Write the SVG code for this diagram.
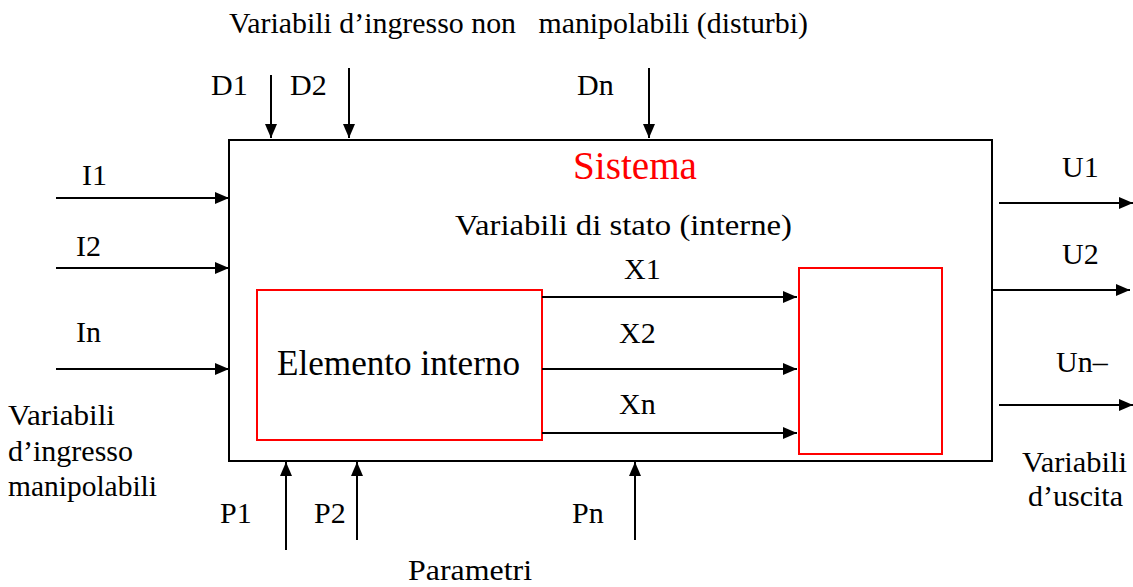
<svg xmlns="http://www.w3.org/2000/svg" width="1133" height="587" viewBox="0 0 1133 587">
<style>
.t{font-family:"Liberation Serif","Tinos","Times New Roman","Nimbus Roman","FreeSerif","DejaVu Serif",serif;font-size:30px;fill:#000}
.red{fill:#ff0000}
.big{font-size:35px}
.title{font-size:39px}
.ln{stroke:#000;stroke-width:2;fill:none}
.box{stroke:#000;stroke-width:2;fill:#fff}
.rbox{stroke:#ff0000;stroke-width:2;fill:#fff}
</style>
<defs>
<marker id="ah" markerWidth="14" markerHeight="12" refX="14" refY="6" orient="auto" markerUnits="userSpaceOnUse">
<path d="M0,0 L14,6 L0,12 Z" fill="#000"/>
</marker>
</defs>
<g>
<text class="t" x="229" y="33" xml:space="preserve" textLength="579" lengthAdjust="spacingAndGlyphs">Variabili d’ingresso non   manipolabili (disturbi)</text>
<g id="sistema">
<rect class="box" x="229" y="140" width="763" height="321"/>
<text class="t red title" x="573" y="179" textLength="124" lengthAdjust="spacingAndGlyphs">Sistema</text>
<text class="t" x="455" y="235" textLength="337" lengthAdjust="spacingAndGlyphs">Variabili di stato (interne)</text>
</g>
<g id="elemento">
<rect class="rbox" x="257" y="290" width="285" height="150"/>
<text class="t big" x="277" y="375" textLength="243" lengthAdjust="spacingAndGlyphs">Elemento interno</text>
</g>
<g id="uscita-interna">
<rect class="rbox" x="799" y="268" width="143" height="186"/>
</g>
<g id="connectors">
<line class="ln" x1="56" y1="198" x2="229" y2="198" marker-end="url(#ah)"/>
<line class="ln" x1="56" y1="268" x2="229" y2="268" marker-end="url(#ah)"/>
<line class="ln" x1="56" y1="369" x2="229" y2="369" marker-end="url(#ah)"/>
<line class="ln" x1="999" y1="203" x2="1133" y2="203" marker-end="url(#ah)"/>
<line class="ln" x1="992" y1="290" x2="1130" y2="290" marker-end="url(#ah)"/>
<line class="ln" x1="999" y1="405" x2="1133" y2="405" marker-end="url(#ah)"/>
<line class="ln" x1="271" y1="75" x2="271" y2="138" marker-end="url(#ah)"/>
<line class="ln" x1="349" y1="68" x2="349" y2="138" marker-end="url(#ah)"/>
<line class="ln" x1="649" y1="68" x2="649" y2="138" marker-end="url(#ah)"/>
<line class="ln" x1="286" y1="550" x2="286" y2="462" marker-end="url(#ah)"/>
<line class="ln" x1="357" y1="540" x2="357" y2="462" marker-end="url(#ah)"/>
<line class="ln" x1="635" y1="540" x2="635" y2="462" marker-end="url(#ah)"/>
<line class="ln" x1="542" y1="297" x2="797" y2="297" marker-end="url(#ah)"/>
<line class="ln" x1="542" y1="369" x2="797" y2="369" marker-end="url(#ah)"/>
<line class="ln" x1="542" y1="433" x2="797" y2="433" marker-end="url(#ah)"/>
</g>
<g id="labels">
<text class="t" x="82" y="185">I1</text>
<text class="t" x="76" y="256">I2</text>
<text class="t" x="76" y="342">In</text>
<text class="t" x="1062" y="177">U1</text>
<text class="t" x="1062" y="264">U2</text>
<text class="t" x="1056" y="372">Un–</text>
<text class="t" x="211" y="95">D1</text>
<text class="t" x="290" y="95">D2</text>
<text class="t" x="577" y="95">Dn</text>
<text class="t" x="220" y="523">P1</text>
<text class="t" x="314" y="523">P2</text>
<text class="t" x="572" y="523">Pn</text>
<text class="t" x="408" y="580" textLength="124" lengthAdjust="spacingAndGlyphs">Parametri</text>
<text class="t" x="624" y="279">X1</text>
<text class="t" x="619" y="343">X2</text>
<text class="t" x="619" y="414">Xn</text>
<text class="t" x="8" y="425" textLength="107" lengthAdjust="spacingAndGlyphs">Variabili</text>
<text class="t" x="8" y="461" textLength="125" lengthAdjust="spacingAndGlyphs">d’ingresso</text>
<text class="t" x="8" y="496" textLength="149" lengthAdjust="spacingAndGlyphs">manipolabili</text>
<text class="t" x="1022" y="472" textLength="105" lengthAdjust="spacingAndGlyphs">Variabili</text>
<text class="t" x="1028" y="506" textLength="95" lengthAdjust="spacingAndGlyphs">d’uscita</text>
</g>
</g>
</svg>
